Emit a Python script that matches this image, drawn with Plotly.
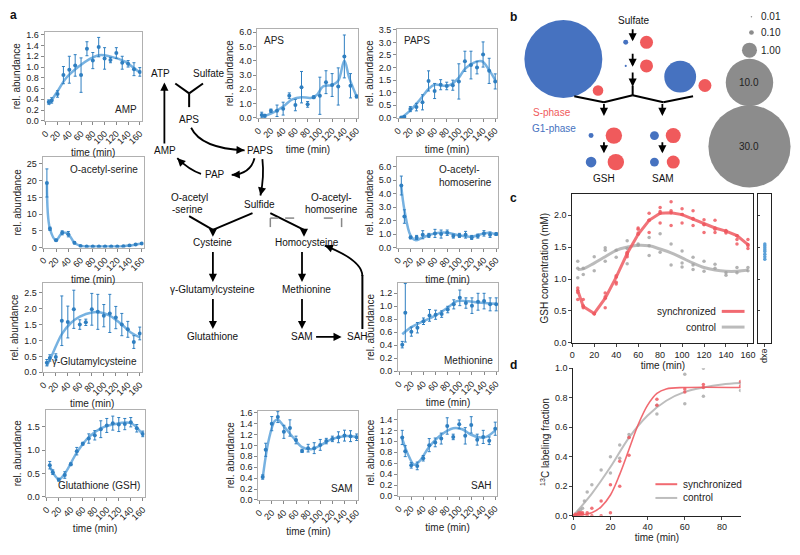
import math
import plotly.graph_objects as go

W, H = 800, 555
def fx(x): return x / W
def fy(y): return 1 - y / H

FONT = "Arial, Liberation Sans, sans-serif"
BLUE = "#2f7fc1"
FITBLUE = "rgba(95,165,220,0.85)"
RED = "#ef5a62"

# ---------------- data: panel a ----------------
T = [5, 10, 20, 30, 40, 50, 60, 70, 80, 90, 100, 110, 120, 130, 140, 150, 160]

amp_mean = [0.35, 0.38, 0.50, 0.85, 0.95, 1.03, 0.85, 1.34, 1.12, 1.37, 1.16, 1.13, 1.26, 1.08, 1.06, 0.96, 0.91]
amp_err = [0.04, 0.05, 0.06, 0.16, 0.25, 0.20, 0.32, 0.13, 0.15, 0.18, 0.20, 0.05, 0.10, 0.12, 0.06, 0.12, 0.08]
amp_fit_t = [5, 20, 35, 55, 75, 90, 100, 115, 135, 150, 160]
amp_fit_y = [0.30, 0.55, 0.80, 1.00, 1.15, 1.22, 1.22, 1.18, 1.10, 0.98, 0.90]

aps_mean = [0.20, 0.15, 0.50, 0.50, 0.65, 1.55, 0.90, 2.15, 0.95, 1.45, 1.55, 2.50, 2.30, 2.20, 4.30, 2.25, 1.50]
aps_err = [0.20, 0.10, 0.12, 0.40, 0.45, 0.20, 0.40, 1.10, 0.20, 0.10, 1.30, 0.80, 0.80, 1.30, 1.50, 0.85, 0.10]
aps_fit_t = [5, 20, 40, 55, 70, 85, 95, 105, 120, 130, 140, 148, 160]
aps_fit_y = [0.10, 0.30, 0.80, 1.30, 1.45, 1.40, 1.60, 2.20, 2.30, 2.60, 4.00, 2.80, 1.50]

paps_mean = [0.02, 0.05, 0.35, 0.43, 0.62, 1.47, 1.07, 1.32, 1.27, 1.30, 1.45, 2.25, 2.10, 2.00, 2.52, 1.87, 1.45]
paps_err = [0.02, 0.03, 0.10, 0.15, 0.30, 0.40, 0.30, 0.20, 0.15, 0.20, 0.70, 0.40, 0.55, 0.25, 0.50, 0.50, 0.30]
paps_fit_t = [5, 20, 35, 50, 60, 75, 85, 100, 110, 125, 138, 150, 160]
paps_fit_y = [0.00, 0.30, 0.70, 1.15, 1.32, 1.28, 1.30, 1.60, 1.95, 2.20, 2.25, 1.90, 1.50]

oas_mean = [19.3, 5.6, 2.2, 4.4, 4.0, 1.4, 0.5, 0.3, 0.3, 0.3, 0.3, 0.3, 0.3, 0.4, 0.6, 0.9, 1.2]
oas_err = [4.2, 0.5, 0.3, 0.6, 0.8, 0.3, 0.1, 0.1, 0.1, 0.1, 0.1, 0.1, 0.1, 0.1, 0.1, 0.1, 0.2]
oas_fit_t = T
oas_fit_y = oas_mean

oah_mean = [4.60, 2.30, 0.75, 0.75, 0.95, 0.90, 1.05, 1.00, 1.10, 0.85, 0.90, 0.95, 0.75, 0.85, 1.05, 0.95, 1.00]
oah_err = [0.70, 0.50, 0.10, 0.15, 0.30, 0.15, 0.30, 0.30, 0.20, 0.15, 0.15, 0.25, 0.15, 0.15, 0.20, 0.20, 0.10]
oah_fit_t = [5, 10, 20, 28, 40, 60, 80, 100, 120, 140, 150, 160]
oah_fit_y = [4.50, 2.80, 0.90, 0.55, 0.75, 1.05, 1.10, 0.90, 0.80, 1.05, 1.10, 0.95]

ggc_mean = [0.30, 0.45, 0.48, 1.62, 1.58, 1.98, 1.50, 1.57, 1.98, 1.90, 1.78, 1.85, 1.72, 1.50, 1.35, 0.95, 1.22]
ggc_err = [0.10, 0.10, 0.10, 0.78, 0.50, 0.60, 0.15, 0.10, 0.50, 0.55, 0.35, 0.60, 0.35, 0.35, 0.25, 0.20, 0.20]
ggc_fit_t = [5, 15, 30, 45, 60, 80, 95, 110, 130, 145, 160]
ggc_fit_y = [0.20, 0.60, 1.20, 1.55, 1.75, 1.88, 1.88, 1.78, 1.50, 1.25, 1.10]

met_mean = [0.41, 0.90, 0.61, 0.67, 0.77, 0.86, 0.87, 0.88, 0.95, 1.03, 1.13, 1.05, 1.01, 1.07, 1.08, 1.03, 1.03]
met_err = [0.05, 0.45, 0.07, 0.08, 0.05, 0.09, 0.07, 0.05, 0.05, 0.07, 0.12, 0.08, 0.12, 0.13, 0.12, 0.10, 0.10]
met_fit_t = [5, 20, 40, 60, 80, 95, 110, 130, 160]
met_fit_y = [0.57, 0.68, 0.77, 0.86, 0.98, 1.08, 1.08, 1.06, 1.04]

gsh_mean = [0.68, 0.53, 0.37, 0.47, 0.70, 0.98, 1.14, 1.25, 1.32, 1.45, 1.53, 1.58, 1.55, 1.56, 1.60, 1.47, 1.35]
gsh_err = [0.08, 0.05, 0.03, 0.07, 0.03, 0.08, 0.03, 0.10, 0.10, 0.18, 0.15, 0.15, 0.15, 0.12, 0.10, 0.08, 0.06]
gsh_fit_t = [5, 20, 30, 50, 70, 90, 110, 140, 160]
gsh_fit_y = [0.65, 0.38, 0.50, 0.95, 1.28, 1.47, 1.55, 1.58, 1.33]

sam_mean = [0.42, 0.92, 1.40, 1.52, 1.25, 1.32, 1.10, 0.90, 0.95, 0.95, 1.01, 1.08, 1.12, 1.15, 1.18, 1.17, 1.15]
sam_err = [0.04, 0.12, 0.13, 0.10, 0.12, 0.15, 0.07, 0.03, 0.07, 0.10, 0.10, 0.05, 0.05, 0.10, 0.10, 0.10, 0.06]
sam_fit_t = [5, 15, 25, 30, 40, 55, 70, 85, 100, 120, 140, 160]
sam_fit_y = [0.40, 1.10, 1.45, 1.47, 1.35, 1.15, 0.97, 0.93, 1.00, 1.12, 1.17, 1.16]

sah_mean = [1.07, 0.82, 0.56, 0.55, 0.69, 0.93, 0.98, 1.05, 1.28, 1.08, 1.31, 1.10, 1.30, 1.03, 1.08, 1.01, 1.23]
sah_err = [0.13, 0.10, 0.05, 0.07, 0.05, 0.12, 0.08, 0.10, 0.15, 0.05, 0.08, 0.15, 0.15, 0.10, 0.12, 0.07, 0.12]
sah_fit_t = [5, 15, 25, 35, 50, 70, 90, 105, 120, 135, 145, 160]
sah_fit_y = [1.05, 0.75, 0.57, 0.65, 0.90, 1.12, 1.24, 1.22, 1.12, 1.07, 1.08, 1.20]

time_ticks = [0, 20, 40, 60, 80, 100, 120, 140, 160]

# ---------------- data: panel b ----------------
b_blue_vals = [27.0, 0.11, 0.02, 4.5, 0.11, 0.5, 0.35, 0.35]
b_red_vals = [0.5, 0.75, 0.75, 0.75, 1.2, 1.2, 1.0, 0.75]
b_legend_vals = [0.01, 0.10, 1.00, 10.0, 30.0]
b_legend_labels = ["0.01", "0.10", "1.00", "10.0", "30.0"]

# ---------------- data: panel c ----------------
c_t = [5, 10, 20, 30, 40, 50, 60, 70, 80, 90, 100, 110, 120, 130, 140, 150, 160]
c_sync_line = [0.82, 0.57, 0.46, 0.70, 1.03, 1.40, 1.70, 1.92, 2.03, 2.04, 2.01, 1.94, 1.86, 1.80, 1.75, 1.68, 1.54]
c_ctrl_line = [1.15, 1.16, 1.25, 1.35, 1.45, 1.50, 1.53, 1.52, 1.47, 1.41, 1.33, 1.25, 1.18, 1.14, 1.12, 1.12, 1.14]
c_sync_rep = [[0.86, 0.79, 0.68], [0.68, 0.55, 0.58], [0.46, 0.45], [0.78, 0.55, 0.72], [1.05, 0.95, 0.92],
              [1.42, 1.38, 1.35], [1.80, 1.78, 1.72], [2.03, 1.92, 1.73], [2.12, 2.06, 1.88], [2.21, 2.07, 1.84],
              [2.10, 2.01, 1.88], [2.07, 1.95, 1.84], [1.93, 1.85, 1.73], [1.92, 1.78, 1.73], [1.76, 1.74, 1.72],
              [1.68, 1.62, 1.55], [1.62, 1.52, 1.48]]
c_ctrl_rep = [[1.28, 1.17, 1.02], [1.17, 1.07], [1.35, 1.13], [1.49, 1.45, 1.28], [1.45, 1.34],
              [1.60, 1.48, 1.24], [1.55, 1.53], [1.65, 1.52, 1.37], [1.71, 1.42], [1.55, 1.22],
              [1.44, 1.25, 1.19], [1.34, 1.22, 1.15], [1.28, 1.12], [1.23, 1.17], [1.10, 1.06],
              [1.18, 1.10], [1.18, 1.13]]
c_exp = [1.55, 1.52, 1.49, 1.46, 1.43, 1.39, 1.35, 1.31]

# ---------------- data: panel d ----------------
d_sync_t = [0, 0, 1, 1, 2, 3, 3, 4, 4, 5, 5, 7.5, 7.5, 10, 10, 15, 15, 20, 20, 25, 25, 30, 30, 45, 45, 60, 60, 70, 70, 90, 90]
d_sync_y = [0.0, 0.0, 0.0, 0.01, 0.01, 0.01, 0.02, 0.02, 0.01, 0.02, 0.01, 0.0, 0.02, 0.05, 0.0, 0.10, 0.0, 0.21, 0.02,
            0.37, 0.20, 0.53, 0.41, 0.79, 0.75, 0.86, 0.84, 0.89, 0.87, 0.91, 0.88]
d_ctrl_t = [2, 3, 4, 5, 6, 7.5, 10, 15, 20, 20, 25, 25, 30, 30, 45, 45, 60, 60, 70, 70, 90, 90]
d_ctrl_y = [0.01, 0.03, 0.04, 0.05, 0.10, 0.16, 0.21, 0.31, 0.40, 0.29, 0.48, 0.39, 0.55, 0.53, 0.75, 0.69, 0.96, 0.76,
            1.00, 0.81, 0.85, 0.90]
d_sync_fit_t = [0, 10, 15, 20, 25, 30, 35, 40, 45, 50, 60, 90]
d_sync_fit_y = [0.0, 0.02, 0.06, 0.14, 0.28, 0.45, 0.62, 0.75, 0.83, 0.86, 0.87, 0.87]
d_ctrl_fit_t = [0, 10, 20, 30, 40, 50, 60, 70, 80, 90]
d_ctrl_fit_y = [0.0, 0.15, 0.33, 0.53, 0.68, 0.78, 0.84, 0.87, 0.89, 0.90]

# ---------------- figure ----------------
fig = go.Figure()
layout = {}
annotations = []
shapes = []

def axname(i):
    return ("x", "y") if i == 1 else (f"x{i}", f"y{i}")

def layname(i):
    return ("xaxis", "yaxis") if i == 1 else (f"xaxis{i}", f"yaxis{i}")

# panel specs: (mean, err, fit_t, fit_y, label, label position, box px, yrange, dtick, tickformat)
a_panels = [
    (amp_mean, amp_err, amp_fit_t, amp_fit_y, "AMP", "br", (40, 27, 138, 118), [0, 1.66], 0.2, ".1f"),
    (aps_mean, aps_err, aps_fit_t, aps_fit_y, "APS", "tl", (255, 24, 357, 115), [0, 6.25], 1, ".1f"),
    (paps_mean, paps_err, paps_fit_t, paps_fit_y, "PAPS", "tl", (396, 24, 497, 115), [0, 3.55], 0.5, ".1f"),
    (oas_mean, oas_err, oas_fit_t, oas_fit_y, "O-acetyl-serine", "tr", (38, 155, 140, 247), [0, 27], 5, "d"),
    (oah_mean, oah_err, oah_fit_t, oah_fit_y, "O-acetyl-<br>homoserine", "tr", (396, 155, 498, 247), [0, 6.7], 1, ".1f"),
    (ggc_mean, ggc_err, ggc_fit_t, ggc_fit_y, "γ-Glutamylcysteine", "br", (38, 283, 138, 374), [0, 2.81], 0.5, ".1f"),
    (met_mean, met_err, met_fit_t, met_fit_y, "Methionine", "br", (397, 283, 498, 373), [0, 1.36], 0.2, ".1f"),
    (gsh_mean, gsh_err, gsh_fit_t, gsh_fit_y, "Glutathione (GSH)", "br", (41, 412, 141, 501), [0, 1.87], 0.5, ".1f"),
    (sam_mean, sam_err, sam_fit_t, sam_fit_y, "SAM", "br", (256, 413, 357, 504), [0, 1.64], 0.2, ".1f"),
    (sah_mean, sah_err, sah_fit_t, sah_fit_y, "SAH", "br", (397, 412, 497, 500), [0, 1.58], 0.2, ".1f"),
]

TICKF = dict(size=9, color="#222", family=FONT)
TITLEF = dict(size=10, color="#222", family=FONT)

for k, (mean, err, ft, fyv, label, lpos, box, yr, dt, tf) in enumerate(a_panels):
    i = k + 1
    xid, yid = axname(i)
    xl, yl = layname(i)
    x0, y0, x1, y1 = box
    layout[xl] = dict(domain=[fx(x0), fx(x1)], range=[-2, 163], tickvals=time_ticks, tickangle=-45,
                      ticks="outside", ticklen=3, tickcolor="#888", tickfont=TICKF, showline=True, mirror=True,
                      linecolor="#b0b0b0", linewidth=1, showgrid=False, zeroline=False, anchor=yid,
                      title=dict(text="time (min)", font=TITLEF, standoff=3))
    layout[yl] = dict(domain=[fy(y1), fy(y0)], range=yr, dtick=dt, tickformat=tf, ticks="outside", ticklen=3,
                      tickcolor="#888", tickfont=TICKF, showline=True, mirror=True, linecolor="#b0b0b0",
                      linewidth=1, showgrid=False, zeroline=False, anchor=xid,
                      title=dict(text="rel. abundance", font=TITLEF, standoff=3))
    fig.add_trace(go.Scatter(x=ft, y=fyv, mode="lines", line=dict(color=FITBLUE, width=2.5, shape="spline", smoothing=1.0),
                             xaxis=xid, yaxis=yid, showlegend=False, hoverinfo="skip"))
    fig.add_trace(go.Scatter(x=T, y=mean, mode="markers", marker=dict(color=BLUE, size=4),
                             error_y=dict(type="data", array=err, color=BLUE, thickness=1, width=1.5),
                             xaxis=xid, yaxis=yid, showlegend=False))
    if lpos == "br":
        annotations.append(dict(xref=f"{xid} domain", yref=f"{yid} domain", x=0.97, y=0.04, xanchor="right",
                                yanchor="bottom", text=label, showarrow=False, font=dict(size=10, family=FONT, color="#222")))
    elif lpos == "tl":
        annotations.append(dict(xref=f"{xid} domain", yref=f"{yid} domain", x=0.05, y=0.95, xanchor="left",
                                yanchor="top", text=label, showarrow=False, font=dict(size=10, family=FONT, color="#222")))
    else:
        annotations.append(dict(xref=f"{xid} domain", yref=f"{yid} domain", x=0.96, y=0.95, xanchor="right",
                                yanchor="top", text=label, showarrow=False, align="left",
                                font=dict(size=10, family=FONT, color="#222")))

# ---------------- panel c ----------------
ic = len(a_panels) + 1
xid, yid = axname(ic)
xl, yl = layname(ic)
layout[xl] = dict(domain=[fx(573), fx(756)], range=[0, 165], dtick=20, ticks="outside", ticklen=3, tickfont=TICKF,
                  showline=True, mirror=True, linecolor="#222", linewidth=1, showgrid=False, zeroline=False,
                  anchor=yid, title=dict(text="time (min)", font=TITLEF, standoff=2))
layout[yl] = dict(domain=[fy(344), fy(192)], range=[0, 2.34], dtick=0.5, tickformat=".1f", ticks="outside", ticklen=3,
                  tickfont=TICKF, showline=True, mirror=True, linecolor="#222", linewidth=1, showgrid=False,
                  zeroline=False, anchor=xid, title=dict(text="GSH concentration (mM)", font=TITLEF, standoff=3))
rx, ry, gx, gy = [], [], [], []
for t, reps in zip(c_t, c_sync_rep):
    rx += [t] * len(reps); ry += reps
for t, reps in zip(c_t, c_ctrl_rep):
    gx += [t] * len(reps); gy += reps
fig.add_trace(go.Scatter(x=c_t, y=c_ctrl_line, mode="lines", line=dict(color="rgba(180,180,180,0.9)", width=3, shape="spline"),
                         xaxis=xid, yaxis=yid, showlegend=False))
fig.add_trace(go.Scatter(x=gx, y=gy, mode="markers", marker=dict(color="rgba(160,160,160,0.8)", size=3.5),
                         xaxis=xid, yaxis=yid, showlegend=False))
fig.add_trace(go.Scatter(x=c_t, y=c_sync_line, mode="lines+markers", line=dict(color="rgba(239,90,98,0.85)", width=3),
                         marker=dict(color=RED, size=3.5), xaxis=xid, yaxis=yid, showlegend=False))
fig.add_trace(go.Scatter(x=rx, y=ry, mode="markers", marker=dict(color="rgba(239,90,98,0.85)", size=3.5),
                         xaxis=xid, yaxis=yid, showlegend=False))

ie = ic + 1
xid2, yid2 = axname(ie)
xl2, yl2 = layname(ie)
layout[xl2] = dict(domain=[fx(761), fx(774)], range=[-1, 1], tickvals=[0], ticktext=["exp"], tickangle=90,
                   ticks="outside", ticklen=3, tickfont=TICKF, showline=True, mirror=True, linecolor="#222",
                   linewidth=1, showgrid=False, zeroline=False, anchor=yid2)
layout[yl2] = dict(domain=[fy(344), fy(192)], range=[0, 2.34], dtick=0.5, ticks="inside", ticklen=2,
                   showticklabels=False, showline=True, mirror=True, linecolor="#222", linewidth=1, showgrid=False,
                   zeroline=False, anchor=xid2)
fig.add_trace(go.Scatter(x=[0] * len(c_exp), y=c_exp, mode="markers", marker=dict(color="#5aa0d8", size=3.5),
                         xaxis=xid2, yaxis=yid2, showlegend=False))

# legend c (manual)
for (yy, col, txt_) in [(312, "rgba(239,90,98,0.9)", "synchronized"), (328, "rgba(180,180,180,0.9)", "control")]:
    shapes.append(dict(type="line", xref="paper", yref="paper", x0=fx(724), x1=fx(747), y0=fy(yy), y1=fy(yy),
                       line=dict(color=col, width=3)))
    annotations.append(dict(xref="paper", yref="paper", x=fx(720), y=fy(yy), xanchor="right", yanchor="middle",
                            text=txt_, showarrow=False, font=dict(size=10, family=FONT, color="#222")))

# ---------------- panel d ----------------
idd = ie + 1
xid3, yid3 = axname(idd)
xl3, yl3 = layname(idd)
layout[xl3] = dict(domain=[fx(574), fx(743)], range=[0, 90], dtick=20, ticks="outside", ticklen=3, tickfont=TICKF,
                   showline=True, mirror=False, linecolor="#222", linewidth=1, showgrid=False, zeroline=False,
                   anchor=yid3, title=dict(text="time (min)", font=TITLEF, standoff=2))
layout[yl3] = dict(domain=[fy(520), fy(370)], range=[0, 1.0], dtick=0.2, tickformat=".1f", ticks="outside", ticklen=3,
                   tickfont=TICKF, showline=True, mirror=False, linecolor="#222", linewidth=1, showgrid=False,
                   zeroline=False, anchor=xid3,
                   title=dict(text="<sup>13</sup>C labeling fraction", font=TITLEF, standoff=3))
fig.add_trace(go.Scatter(x=d_ctrl_fit_t, y=d_ctrl_fit_y, mode="lines", line=dict(color="rgba(185,185,185,0.95)", width=2, shape="spline"),
                         xaxis=xid3, yaxis=yid3, showlegend=False))
fig.add_trace(go.Scatter(x=d_ctrl_t, y=d_ctrl_y, mode="markers", marker=dict(color="rgba(170,170,170,0.85)", size=3.5),
                         xaxis=xid3, yaxis=yid3, showlegend=False))
fig.add_trace(go.Scatter(x=d_sync_fit_t, y=d_sync_fit_y, mode="lines", line=dict(color="rgba(239,90,98,0.9)", width=1.6, shape="spline"),
                         xaxis=xid3, yaxis=yid3, showlegend=False))
fig.add_trace(go.Scatter(x=d_sync_t, y=d_sync_y, mode="markers", marker=dict(color="rgba(239,90,98,0.85)", size=3.5),
                         xaxis=xid3, yaxis=yid3, showlegend=False))
for (yy, col, txt_) in [(488, "rgba(239,90,98,0.9)", "synchronized"), (502, "rgba(185,185,185,0.95)", "control")]:
    shapes.append(dict(type="line", xref="paper", yref="paper", x0=fx(657), x1=fx(679), y0=fy(yy), y1=fy(yy),
                       line=dict(color=col, width=2)))
    annotations.append(dict(xref="paper", yref="paper", x=fx(683), y=fy(yy), xanchor="left", yanchor="middle",
                            text=txt_, showarrow=False, font=dict(size=10, family=FONT, color="#222")))

# ---------------- panel b (bubbles on a pixel-mapped axis) ----------------
ib = idd + 1
xid4, yid4 = axname(ib)
xl4, yl4 = layname(ib)
layout[xl4] = dict(domain=[fx(515), 1.0], range=[515, 800], visible=False, anchor=yid4, fixedrange=True)
layout[yl4] = dict(domain=[fy(190), 1.0], range=[190, 0], visible=False, anchor=xid4, fixedrange=True)
blue_pos = [(564, 55), (627, 38), (627, 62), (682, 73), (592, 133), (592, 160), (656, 133), (656, 160)]
red_pos = [(599, 87), (648, 38), (648, 62), (707, 82), (615, 133), (617, 160), (675, 133), (675, 160)]
legend_pos = [(754, 12), (754, 28), (752, 46), (752, 79), (752, 144)]

def diam(v):
    return 15 * math.sqrt(v)

fig.add_trace(go.Scatter(x=[p[0] for p in blue_pos], y=[p[1] for p in blue_pos], mode="markers",
                         marker=dict(color="#4672c0", opacity=1, size=[diam(v) for v in b_blue_vals], sizemode="diameter", line=dict(width=0)),
                         xaxis=xid4, yaxis=yid4, showlegend=False))
fig.add_trace(go.Scatter(x=[p[0] for p in red_pos], y=[p[1] for p in red_pos], mode="markers",
                         marker=dict(color="#f05a5c", opacity=1, size=[diam(v) for v in b_red_vals], sizemode="diameter", line=dict(width=0)),
                         xaxis=xid4, yaxis=yid4, showlegend=False))
fig.add_trace(go.Scatter(x=[p[0] for p in legend_pos], y=[p[1] for p in legend_pos], mode="markers",
                         marker=dict(color="#8c8c8c", opacity=1, size=[diam(v) for v in b_legend_vals], sizemode="diameter", line=dict(width=0)),
                         xaxis=xid4, yaxis=yid4, showlegend=False))
for (p, lab) in zip(legend_pos, b_legend_labels):
    if lab in ("10.0", "30.0"):
        annotations.append(dict(xref=xid4, yref=yid4, x=p[0], y=p[1], text=lab, showarrow=False, xanchor="center",
                                font=dict(size=10, family=FONT, color="#222")))
    else:
        annotations.append(dict(xref=xid4, yref=yid4, x=762, y=p[1], text=lab, showarrow=False, xanchor="left",
                                font=dict(size=10, family=FONT, color="#222")))

# ---------------- drawing helpers ----------------
def txt(x, y, s, size=10, color="#111", anchor="center"):
    annotations.append(dict(xref="paper", yref="paper", x=fx(x), y=fy(y), text=s, showarrow=False, xanchor=anchor,
                            yanchor="middle", font=dict(size=size, family=FONT, color=color)))

def line(x0, y0, x1, y1, w=2, color="black", dash="solid"):
    shapes.append(dict(type="line", xref="paper", yref="paper", x0=fx(x0), y0=fy(y0), x1=fx(x1), y1=fy(y1),
                       line=dict(color=color, width=w, dash=dash)))

def arrow(x0, y0, x1, y1, w=1.8):
    annotations.append(dict(xref="paper", yref="paper", x=fx(x1), y=fy(y1), ax=x0 - x1, ay=y0 - y1,
                            axref="pixel", ayref="pixel", text=" ", showarrow=True, arrowhead=2, arrowsize=0.9,
                            arrowwidth=w, arrowcolor="black", font=dict(size=1)))

def curve(p0, c, p1, w=1.8):
    path = f"M {fx(p0[0])},{fy(p0[1])} Q {fx(c[0])},{fy(c[1])} {fx(p1[0])},{fy(p1[1])}"
    shapes.append(dict(type="path", path=path, xref="paper", yref="paper", line=dict(color="black", width=w)))
    dx, dy = p1[0] - c[0], p1[1] - c[1]
    n = math.hypot(dx, dy)
    arrow(p1[0] - 5 * dx / n, p1[1] - 5 * dy / n, p1[0], p1[1], w)

# ---------------- panel a pathway ----------------
txt(157, 70, "ATP"); txt(206, 70, "Sulfate")
line(172, 80, 186, 90); line(200, 80, 186, 90); line(186, 90, 186, 104)
arrow(161, 142, 161, 79)
txt(186, 117, "APS")
curve((188, 125), (198, 146), (242, 148))
txt(258, 148, "PAPS")
txt(162, 148, "AMP")
curve((252, 156), (248, 172), (229, 173))
txt(212, 173, "PAP")
curve((198, 172), (186, 168), (174, 156))
curve((260, 157), (262, 175), (258, 194))
txt(186, 196, "O-acetyl"); txt(184, 208, "-serine")
txt(257, 203, "Sulfide")
txt(330, 196, "O-acetyl-"); txt(330, 208, "homoserine")
line(186, 215, 210, 229); line(250, 212, 210, 229); arrow(210, 228, 210, 236)
line(268, 212, 302, 229)
arrow(302, 228, 302, 236)
line(283, 217, 298, 217, w=1.5, color="#888", dash="dash")
line(322, 217, 340, 217, w=1.5, color="#888", dash="dash")
line(340, 217, 340, 228, w=1.5, color="#888", dash="dash")
line(268, 217, 268, 229, w=1.5, color="#888", dash="dash")
line(268, 217, 276, 217, w=1.5, color="#888", dash="dash")
txt(210, 242, "Cysteine")
txt(305, 242, "Homocysteine")
arrow(210, 250, 210, 282)
txt(210, 290, "γ-Glutamylcysteine")
arrow(210, 298, 210, 330)
txt(210, 338, "Glutathione")
arrow(300, 250, 300, 282)
txt(305, 290, "Methionine")
arrow(300, 298, 300, 330)
txt(300, 338, "SAM")
arrow(313, 338, 340, 338)
txt(356, 338, "SAH")
line(361, 330, 361, 275)
curve((361, 276), (361, 260), (323, 245))

# ---------------- panel b tree ----------------
txt(635, 16, "Sulfate")
arrow(634, 23, 634, 37); arrow(634, 48, 634, 63); arrow(634, 67, 634, 83); line(634, 82, 634, 92)
line(575, 93, 605, 99); line(605, 99, 634, 92); line(634, 92, 665, 99); line(665, 99, 695, 93)
arrow(605, 99, 605, 113); arrow(605, 138, 605, 151)
arrow(664, 99, 664, 113); arrow(664, 138, 664, 151)
txt(605, 177, "GSH"); txt(665, 177, "SAM")
txt(531, 109, "S-phase", color="#f05a5c", anchor="left")
txt(530, 126, "G1-phase", color="#4672c0", anchor="left")

# panel letters
for (x, y, s) in [(9, 10, "a"), (514, 12, "b"), (514, 197, "c"), (514, 367, "d")]:
    annotations.append(dict(xref="paper", yref="paper", x=fx(x), y=fy(y), text=f"<b>{s}</b>", showarrow=False,
                            xanchor="center", yanchor="middle", font=dict(size=12, family=FONT, color="#111")))

fig.update_layout(width=W, height=H, margin=dict(l=0, r=0, t=0, b=0), paper_bgcolor="white", plot_bgcolor="white",
                  font=dict(family=FONT, size=10, color="#222"), showlegend=False,
                  annotations=annotations, shapes=shapes, **layout)
fig.write_html("out.html", config={"displayModeBar": False, "staticPlot": True},
               post_script="document.body.style.margin='0px';document.body.style.padding='0px';")
